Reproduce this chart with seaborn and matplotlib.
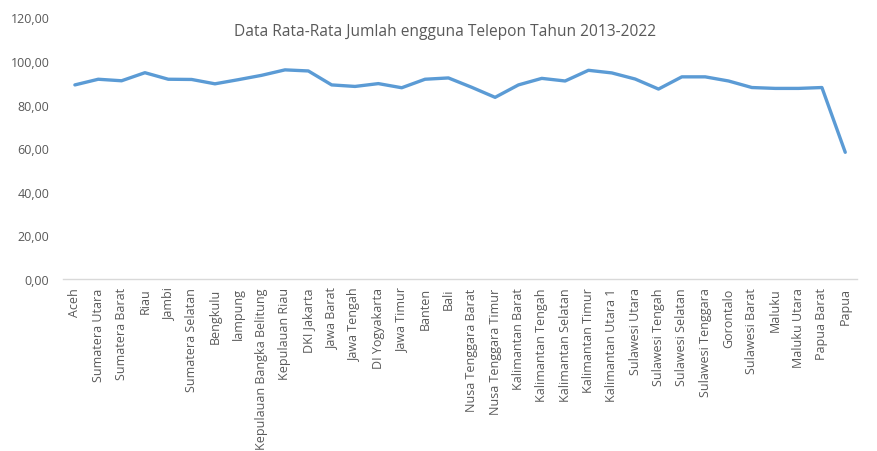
import matplotlib
matplotlib.use("Agg")
import matplotlib.pyplot as plt
from matplotlib.ticker import FuncFormatter, MultipleLocator
import seaborn as sns
import pandas as pd

provinsi = [
    "Aceh", "Sumatera Utara", "Sumatera Barat", "Riau", "Jambi",
    "Sumatera Selatan", "Bengkulu", "lampung", "Kepulauan Bangka Belitung",
    "Kepulauan Riau", "DKI Jakarta", "Jawa Barat", "Jawa Tengah",
    "DI Yogyakarta", "Jawa Timur", "Banten", "Bali", "Nusa Tenggara Barat",
    "Nusa Tenggara Timur", "Kalimantan Barat", "Kalimantan Tengah",
    "Kalimantan Selatan", "Kalimantan Timur", "Kalimantan Utara 1",
    "Sulawesi Utara", "Sulawesi Tengah", "Sulawesi Selatan",
    "Sulawesi Tenggara", "Gorontalo", "Sulawesi Barat", "Maluku",
    "Maluku Utara", "Papua Barat", "Papua",
]
rata_rata = [
    89.0, 91.6, 90.9, 94.6, 91.6,
    91.5, 89.5, 91.4, 93.4,
    95.9, 95.4, 89.0, 88.3,
    89.6, 87.7, 91.6, 92.2, 87.9,
    83.3, 89.0, 92.0,
    90.8, 95.7, 94.5,
    91.7, 87.1, 92.7,
    92.7, 90.8, 87.8, 87.4,
    87.4, 87.8, 58.1,
]

judul = "Data Rata-Rata Jumlah engguna Telepon Tahun 2013-2022"

df = pd.DataFrame({"provinsi": provinsi, "nilai": rata_rata})

sns.set_theme(style="white")
plt.rcParams["font.family"] = ["Open Sans", "DejaVu Sans"]

fig = plt.figure(figsize=(8.78, 4.52), dpi=100)
ax = fig.add_axes([0.072, 0.3805, 0.904, 0.579])

sns.lineplot(data=df, x="provinsi", y="nilai", sort=False,
             color="#5B9BD5", linewidth=2.4, ax=ax)

ax.set_ylim(0, 120)
ax.set_xlim(-0.5, len(provinsi) - 0.5)
ax.yaxis.set_major_locator(MultipleLocator(20))
ax.yaxis.set_major_formatter(
    FuncFormatter(lambda v, _: f"{v:.2f}".replace(".", ",")))

ax.set_xlabel("")
ax.set_ylabel("")
ax.tick_params(axis="x", labelrotation=90, labelsize=9, colors="#595959",
               length=0, pad=6)
ax.tick_params(axis="y", labelsize=9, colors="#595959", length=0, pad=10)
for lbl in ax.get_xticklabels():
    lbl.set_verticalalignment("top")

for side in ("top", "right", "left"):
    ax.spines[side].set_visible(False)
ax.spines["bottom"].set_color("#D9D9D9")
ax.spines["bottom"].set_linewidth(1)

fig.text(0.507, 0.93, judul, ha="center", va="center",
         fontsize=11.2, color="#595959")

fig.savefig("out.png", dpi=100)
